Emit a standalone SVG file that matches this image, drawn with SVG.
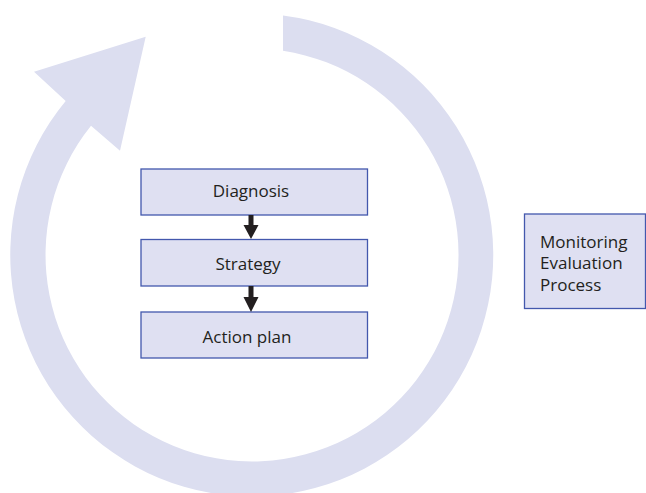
<svg xmlns="http://www.w3.org/2000/svg" width="646" height="493" viewBox="0 0 646 493">
<style>
.box{fill:#dfe0f2;stroke:#4358ad;stroke-width:1.3}
.lbl{font-family:"Open Sans","Liberation Sans",sans-serif;font-size:17px;fill:#231f20}
.mid{text-anchor:middle}
.arr{fill:#231f20}
</style>
<rect width="646" height="493" fill="#ffffff"/>
<g id="cycle">
<path d="M283 15.5 A241.5 241.5 0 1 1 65.7 101 L34 71.7 L145.7 36.7 L120 150.7 L91 125.7 A206.5 206.5 0 1 0 283 50.8 Z" fill="#dcdef0"/>
</g>
<g id="diagnosis">
<rect class="box" x="141" y="169" width="226.5" height="46"/>
<text class="lbl mid" x="251" y="196.5">Diagnosis</text>
</g>
<g id="strategy">
<rect class="box" x="141" y="239.5" width="226.5" height="46.5"/>
<text class="lbl mid" x="248" y="270">Strategy</text>
</g>
<g id="action-plan">
<rect class="box" x="141" y="312" width="226.5" height="46"/>
<text class="lbl mid" x="247" y="342.5">Action plan</text>
</g>
<g id="monitoring">
<rect class="box" x="524.5" y="214" width="121" height="94.5"/>
<text class="lbl" x="540" y="247.5">Monitoring</text>
<text class="lbl" x="540" y="269">Evaluation</text>
<text class="lbl" x="540" y="290.5">Process</text>
</g>
<g id="connectors">
<path class="arr" d="M248.5 215 H253.5 V225 H258.5 L251 239 L243.5 225 H248.5 Z"/>
<path class="arr" d="M248.5 286 H253.5 V297 H258.5 L251 312 L243.5 297 H248.5 Z"/>
</g>
</svg>
